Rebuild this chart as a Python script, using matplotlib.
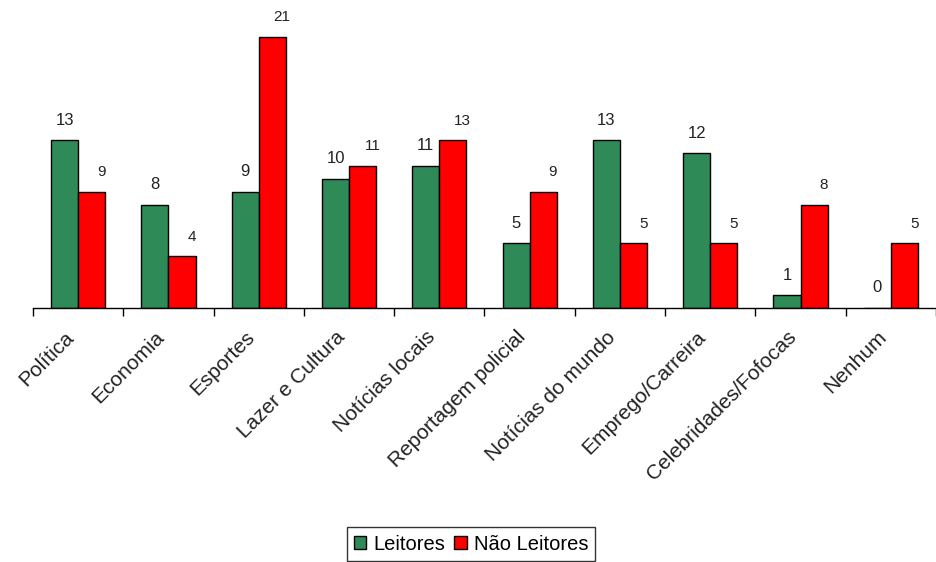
import matplotlib.pyplot as plt
from matplotlib.transforms import ScaledTranslation
import numpy as np

plt.rcParams['font.family'] = ['Liberation Sans', 'DejaVu Sans']

categorias = ['Política', 'Economia', 'Esportes', 'Lazer e Cultura', 'Notícias locais',
              'Reportagem policial', 'Notícias do mundo', 'Emprego/Carreira',
              'Celebridades/Fofocas', 'Nenhum']
leitores = [13, 8, 9, 10, 11, 5, 13, 12, 1, 0]
nao_leitores = [9, 4, 21, 11, 13, 9, 5, 5, 8, 5]

verde = '#2E8B57'
vermelho = '#FF0000'

fig = plt.figure(figsize=(9.37, 5.62), dpi=100)
ax = fig.add_axes([33 / 937, (562 - 308) / 562, 903 / 937, 297 / 562])

x = np.arange(len(categorias))
w = 0.3
b1 = ax.bar(x - w / 2, leitores, w, color=verde, edgecolor='black', linewidth=1, label='Leitores')
b2 = ax.bar(x + w / 2, nao_leitores, w, color=vermelho, edgecolor='black', linewidth=1, label='Não Leitores')

# valores acima das barras
for xi, v in zip(x, leitores):
    ax.annotate(str(v), (xi - w / 2, v), xytext=(0, 9), textcoords='offset points',
                ha='center', va='bottom', fontsize=12, color='#222222')
for xi, v in zip(x, nao_leitores):
    ax.annotate(str(v), (xi + w / 2, v), xytext=(7, 9), textcoords='offset points',
                ha='center', va='bottom', fontsize=11, color='#222222')

ax.set_xlim(-0.5, len(categorias) - 0.5)
ax.set_ylim(0, 23)
ax.set_yticks([])
for s in ['left', 'right', 'top']:
    ax.spines[s].set_visible(False)
ax.spines['bottom'].set_linewidth(1)

ax.set_xticks(np.arange(len(categorias) + 1) - 0.5, minor=True)
ax.tick_params(axis='x', which='minor', length=6, width=1, direction='out')
ax.set_xticks(x)
ax.tick_params(axis='x', which='major', length=0, pad=14)
ax.set_xticklabels(categorias, rotation=45, ha='right', va='top', rotation_mode='anchor',
                   fontsize=15, color='#222222')
desloc = ScaledTranslation(-0.14, 0, fig.dpi_scale_trans)
for lbl in ax.get_xticklabels():
    lbl.set_transform(lbl.get_transform() + desloc)

leg = fig.legend(handles=[b1, b2], loc='center', bbox_to_anchor=(471 / 937, 1 - 544 / 562),
                 ncol=2, frameon=True, fancybox=False, edgecolor='black', fontsize=14.5,
                 handlelength=0.62, handleheight=0.62, handletextpad=0.34, columnspacing=0.45,
                 borderpad=0.35, borderaxespad=0)
leg.get_frame().set_linewidth(1)

fig.savefig('out.png', dpi=100)
